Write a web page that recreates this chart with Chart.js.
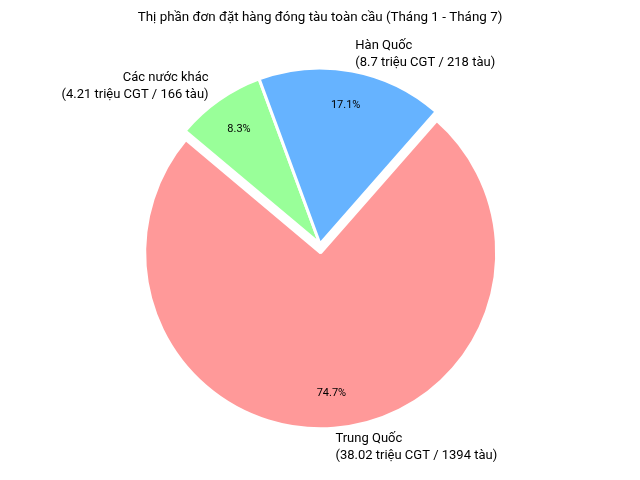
<!DOCTYPE html>
<html>
<head>
<meta charset="utf-8">
<script src="https://cdn.jsdelivr.net/npm/chart.js@4"></script>
<style>
    body { margin: 0; background: #fff; }
    canvas { display: block; }
</style>
</head>
<body>
<canvas id="shipChart" width="640" height="480"></canvas>
<script>
// Data (clockwise order as drawn)
const countries = ['Các nước khác', 'Hàn Quốc', 'Trung Quốc'];
const cgtValues = [4.21, 8.7, 38.02];
const shipCounts = [166, 218, 1394];
const sliceColors = ['#99ff99', '#66b3ff', '#ff9999'];
const explode = [0, 0, 0.05];

const titleText = 'Thị phần đơn đặt hàng đóng tàu toàn cầu (Tháng 1 - Tháng 7)';
const fontFamily = 'Roboto, "DejaVu Sans", sans-serif';

// Push exploded slices out along their middle angle
const explodePlugin = {
    id: 'explode',
    afterDatasetUpdate(chart, args) {
        const meta = chart.getDatasetMeta(args.index);
        meta.data.forEach((arc, i) => {
            const mid = (arc.startAngle + arc.endAngle) / 2;
            const d = explode[i] * arc.outerRadius;
            arc.x += Math.cos(mid) * d;
            arc.y += Math.sin(mid) * d;
        });
    }
};

// Outside labels, percentages and title
const labelPlugin = {
    id: 'pieLabels',
    afterDatasetsDraw(chart) {
        const ctx = chart.ctx;
        const meta = chart.getDatasetMeta(0);
        const total = cgtValues.reduce((a, b) => a + b, 0);

        ctx.save();
        ctx.fillStyle = '#000';

        meta.data.forEach((arc, i) => {
            const mid = (arc.startAngle + arc.endAngle) / 2;
            const r = arc.outerRadius;

            // percentage inside
            ctx.font = '11px ' + fontFamily;
            ctx.textAlign = 'center';
            ctx.textBaseline = 'middle';
            const pct = (cgtValues[i] / total * 100).toFixed(1) + '%';
            ctx.fillText(pct, arc.x + Math.cos(mid) * r * 0.8, arc.y + Math.sin(mid) * r * 0.8);

            // category label outside
            const lines = [countries[i], '(' + cgtValues[i] + ' triệu CGT / ' + shipCounts[i] + ' tàu)'];
            const lx = arc.x + Math.cos(mid) * r * 1.1;
            const ly = arc.y + Math.sin(mid) * r * 1.1 + 1;
            const lineH = 17;
            ctx.font = '13px ' + fontFamily;
            ctx.textAlign = Math.cos(mid) >= 0 ? 'left' : 'right';
            lines.forEach((line, j) => {
                ctx.fillText(line, lx, ly + (j - (lines.length - 1) / 2) * lineH);
            });
        });

        ctx.font = '13.4px ' + fontFamily;
        ctx.textAlign = 'center';
        ctx.textBaseline = 'middle';
        ctx.fillText(titleText, chart.width / 2, 18);
        ctx.restore();
    }
};

new Chart(document.getElementById('shipChart').getContext('2d'), {
    type: 'pie',
    data: {
        labels: countries,
        datasets: [{
            data: cgtValues,
            backgroundColor: sliceColors,
            borderColor: '#ffffff',
            borderWidth: 3,
            radius: 176
        }]
    },
    options: {
        responsive: false,
        animation: false,
        events: [],
        rotation: -50,
        layout: {
            padding: { top: 8, bottom: 0, left: 0, right: 0 }
        },
        plugins: {
            legend: { display: false },
            tooltip: { enabled: false }
        }
    },
    plugins: [explodePlugin, labelPlugin]
});
</script>
</body>
</html>
